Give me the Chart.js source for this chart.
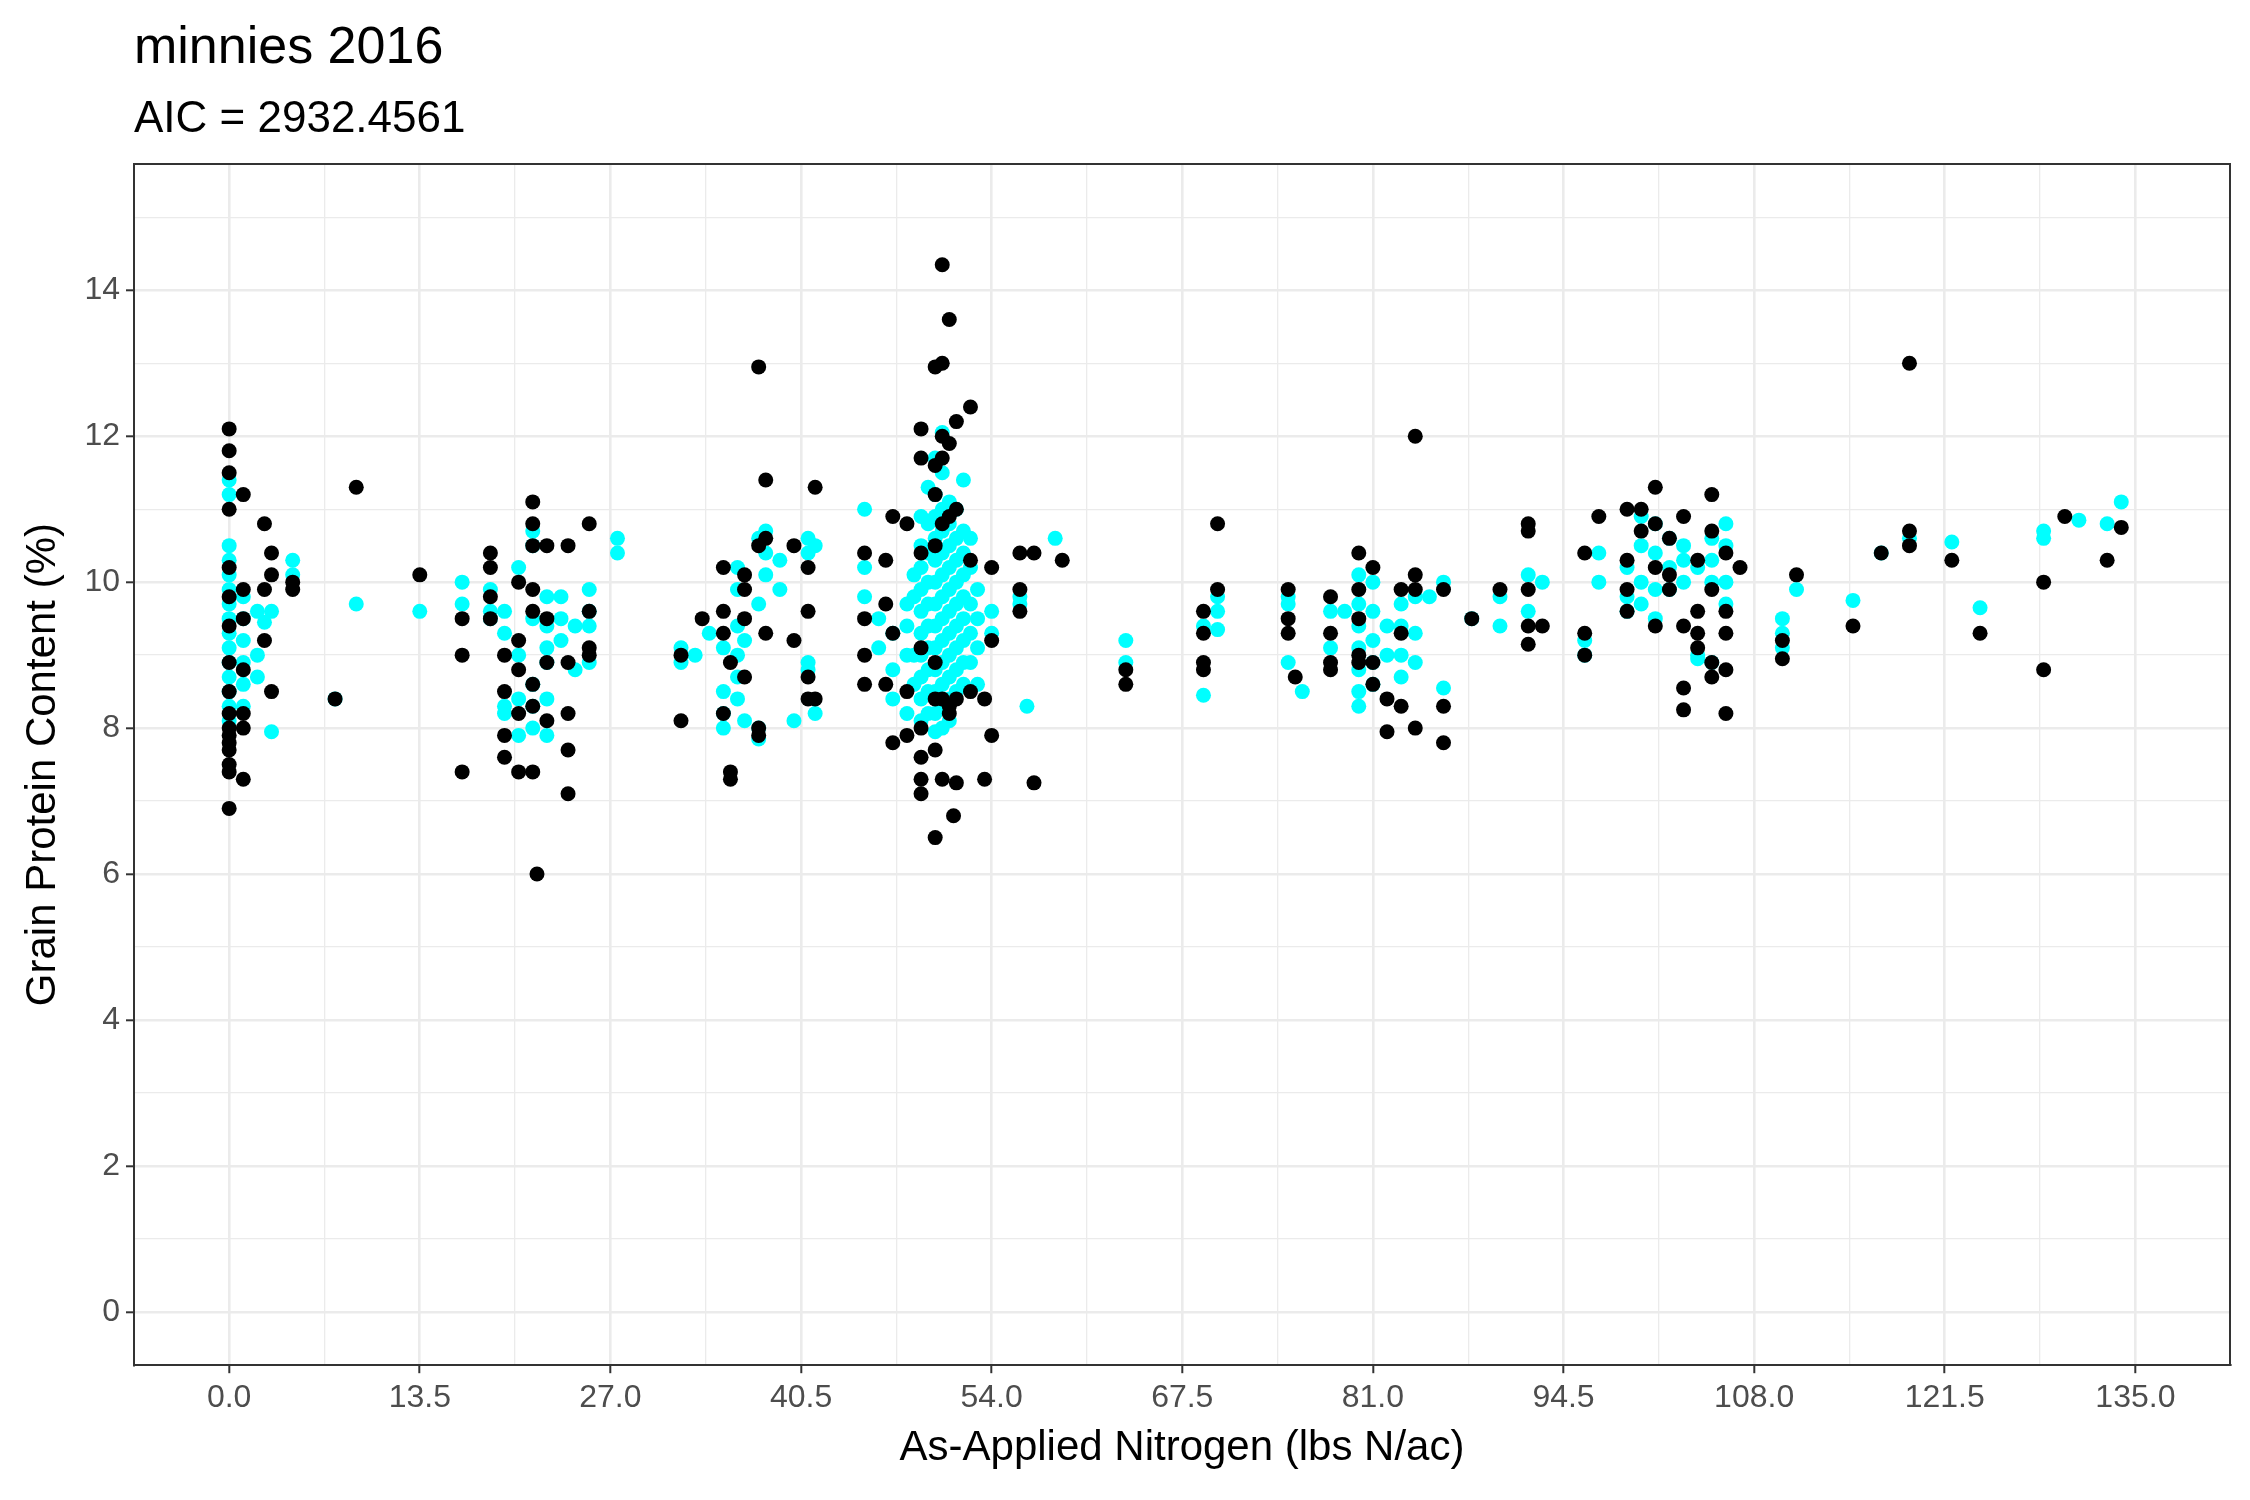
<!DOCTYPE html>
<html>
<head>
<meta charset="utf-8">
<script src="https://cdn.jsdelivr.net/npm/chart.js@4.4.1/dist/chart.umd.min.js"></script>
<style>
  html, body { margin: 0; padding: 0; background: #fff; }
  #wrap { width: 2250px; height: 1500px; }
</style>
</head>
<body>
<div id="wrap"><canvas id="c" width="2250" height="1500"></canvas></div>
<script>
// points: [N rate, protein %]
const titleText = "minnies 2016";
const subtitleText = "AIC = 2932.4561";
const xTitle = "As-Applied Nitrogen (lbs N/ac)";
const yTitle = "Grain Protein Content (%)";
const xTicks = [0, 13.5, 27, 40.5, 54, 67.5, 81, 94.5, 108, 121.5, 135];
const yTicks = [0, 2, 4, 6, 8, 10, 12, 14];

const blackPts = [
  [0,12.1],[0,11.8],[0,11.5],[0,11.0],[0,10.2],[0,9.8],[0,9.4],[0,8.9],[0,8.5],[0,8.0],[0,7.9],[0,7.7],[0,7.5],[0,7.4],[0,6.9],[0,7.8],[0,8.2],
  [1,11.2],[1,9.9],[1,9.5],[1,8.8],[1,8.2],[1,7.3],[1,8.0],
  [2.5,10.8],[2.5,9.9],[2.5,9.2],[3,10.4],[3,10.1],[3,8.5],[4.5,10.0],[4.5,9.9],
  [7.5,8.4],[9,11.3],[13.5,10.1],
  [16.5,9.5],[16.5,9.0],[16.5,7.4],
  [18.5,10.4],[18.5,10.2],[18.5,9.8],[18.5,9.5],
  [19.5,8.5],[19.5,7.9],[19.5,7.6],[19.5,9.0],
  [20.5,7.4],[20.5,8.2],[20.5,8.8],[20.5,9.2],[20.5,10.0],
  [21.5,11.1],[21.5,10.8],[21.5,10.5],[21.5,9.9],[21.5,9.6],[21.5,8.3],[21.5,7.4],[21.8,6.0],[21.5,8.6],
  [22.5,10.5],[22.5,9.5],[22.5,8.9],[22.5,8.1],
  [24,10.5],[24,8.9],[24,8.2],[24,7.7],[24,7.1],
  [25.5,10.8],[25.5,9.6],[25.5,9.1],[25.5,9.0],
  [32,9.0],[32,8.1],[33.5,9.5],
  [35,10.2],[35,9.6],[35,9.3],[35,8.2],[35.5,7.4],[35.5,7.3],[35.5,8.9],
  [36.5,10.1],[36.5,9.9],[36.5,9.5],[36.5,8.7],
  [37.5,10.5],[37.5,8.0],[37.5,12.95],[37.5,7.9],[38,11.4],[38,10.6],[38,9.3],
  [40,10.5],[40,9.2],[41,10.2],[41,9.6],[41,8.7],[41,8.4],[41.5,11.3],[41.5,8.4],
  [45,10.4],[45,9.5],[45,8.6],[45,9.0],[46.5,10.3],[46.5,9.7],[46.5,8.6],
  [47,10.9],[47,9.3],[47,7.8],[48,10.8],[48,8.5],[48,7.9],
  [49,11.7],[49,12.1],[49,10.4],[49,9.1],[49,8.0],[49,7.6],[49,7.3],[49,7.1],
  [50,12.95],[50,11.6],[50,11.2],[50,10.5],[50,8.9],[50,8.4],[50,7.7],[50,6.5],
  [50.5,14.35],[50.5,13.0],[50.5,12.0],[50.5,11.7],[50.5,10.8],[50.5,8.4],[50.5,7.3],
  [51,13.6],[51,11.9],[51,10.9],[51,8.3],[51,8.2],[51.3,6.8],
  [51.5,12.2],[51.5,11.0],[51.5,8.4],[51.5,7.25],
  [52.5,12.4],[52.5,10.3],[52.5,8.5],[53.5,7.3],[53.5,8.4],
  [54,10.2],[54,7.9],[54,9.2],[56,10.4],[56,9.9],[56,9.6],[57,10.4],[57,7.25],[59,10.3],
  [63.5,8.8],[63.5,8.6],
  [69,9.6],[69,9.3],[69,8.9],[69,8.8],[70,10.8],[70,9.9],
  [75,9.5],[75,9.9],[75,9.3],[75.5,8.7],
  [78,9.8],[78,9.3],[78,8.9],[78,8.8],
  [80,10.4],[80,9.9],[80,9.5],[80,9.0],[80,8.9],[81,10.2],[81,8.6],[81,8.9],
  [82,8.4],[82,7.95],[83,9.9],[83,9.3],[83,8.3],
  [84,12.0],[84,10.1],[84,9.9],[84,8.0],
  [86,9.9],[86,8.3],[86,7.8],[88,9.5],[90,9.9],
  [92,10.8],[92,10.7],[92,9.9],[92,9.4],[92,9.15],[93,9.4],
  [96,10.4],[96,9.3],[96,9.0],[97,10.9],
  [99,11.0],[99,10.3],[99,9.9],[99,9.6],[100,11.0],[100,10.7],
  [101,11.3],[101,10.8],[101,10.2],[101,9.4],
  [102,10.6],[102,10.1],[102,9.9],
  [103,10.9],[103,9.4],[103,8.55],[103,8.25],
  [104,10.3],[104,9.6],[104,9.1],[104,9.3],
  [105,11.2],[105,10.7],[105,9.9],[105,8.7],[105,8.9],
  [106,10.4],[106,9.6],[106,9.3],[106,8.8],[106,8.2],
  [107,10.2],[110,9.2],[110,8.95],[111,10.1],[115,9.4],[117,10.4],
  [119,13.0],[119,10.7],[119,10.5],[122,10.3],[124,9.3],
  [128.5,10.0],[128.5,8.8],[130,10.9],[133,10.3],[134,10.75]
];

const cyanPts = [
  [0,11.4],[0,11.2],[0,10.5],[0,10.3],[0,10.1],[0,9.9],[0,9.7],[0,9.5],[0,9.3],[0,9.1],[0,8.9],[0,8.7],[0,8.5],[0,8.3],[0,8.1],
  [1,9.8],[1,9.5],[1,9.2],[1,8.9],[1,8.6],[1,8.3],
  [2,9.6],[2,9.0],[2,8.7],[2.5,9.45],[3,9.6],[3,7.95],[4.5,10.3],[4.5,10.1],
  [7.5,8.4],[9,9.7],[13.5,9.6],
  [16.5,10.0],[16.5,9.7],
  [18.5,9.9],[18.5,9.6],[18.5,9.5],
  [19.5,9.6],[19.5,9.3],[19.5,8.3],[19.5,8.2],
  [20.5,10.2],[20.5,9.0],[20.5,8.4],[20.5,7.9],
  [21.5,10.7],[21.5,10.5],[21.5,9.5],[21.5,8.6],[21.5,8.3],[21.5,8.0],
  [22.5,9.8],[22.5,9.4],[22.5,9.1],[22.5,8.9],[22.5,8.4],[22.5,7.9],
  [23.5,9.8],[23.5,9.5],[23.5,9.2],[24.5,9.4],[24.5,8.8],
  [25.5,9.9],[25.5,9.6],[25.5,9.4],[25.5,8.9],
  [27.5,10.6],[27.5,10.4],
  [32,8.9],[32,9.1],[33,9.0],[34,9.3],
  [35,9.1],[35,8.5],[35,8.2],[35,8.0],
  [36,10.2],[36,9.9],[36,9.4],[36,9.0],[36,8.7],[36,8.4],[36.5,9.2],[36.5,8.1],
  [37.5,10.6],[37.5,9.7],[37.5,8.0],[37.5,7.85],
  [38,10.7],[38,10.4],[38,10.1],[39,10.3],[39,9.9],[40,8.1],
  [41,10.6],[41,10.4],[41,8.9],[41,8.8],[41.5,10.5],[41.5,8.2],
  [45,11.0],[45,10.2],[45,9.8],[46,9.5],[46,9.1],
  [47,9.3],[47,8.8],[47,8.4],
  [48,9.7],[48,9.4],[48,9.0],[48,8.2],
  [48.5,10.1],[48.5,9.8],[48.5,9.0],[48.5,8.6],
  [49,10.9],[49,10.5],[49,10.2],[49,9.9],[49,9.6],[49,9.3],[49,9.0],[49,8.7],[49,8.4],[49,8.1],
  [49.5,11.3],[49.5,10.8],[49.5,10.4],[49.5,10.0],[49.5,9.7],[49.5,9.4],[49.5,9.1],[49.5,8.8],[49.5,8.5],[49.5,8.2],
  [50,11.7],[50,11.2],[50,10.9],[50,10.6],[50,10.3],[50,10.0],[50,9.7],[50,9.4],[50,9.1],[50,8.8],[50,8.5],[50,8.2],[50,7.95],
  [50.5,12.05],[50.5,11.5],[50.5,11.0],[50.5,10.7],[50.5,10.4],[50.5,10.1],[50.5,9.8],[50.5,9.5],[50.5,9.2],[50.5,8.9],[50.5,8.6],[50.5,8.3],[50.5,8.0],
  [51,11.1],[51,10.8],[51,10.5],[51,10.2],[51,9.9],[51,9.6],[51,9.3],[51,9.0],[51,8.7],[51,8.4],[51,8.1],
  [51.5,11.0],[51.5,10.6],[51.5,10.3],[51.5,10.0],[51.5,9.7],[51.5,9.4],[51.5,9.1],[51.5,8.8],[51.5,8.5],
  [52,11.4],[52,10.7],[52,10.4],[52,10.1],[52,9.8],[52,9.5],[52,9.2],[52,8.9],[52,8.6],
  [52.5,10.6],[52.5,10.2],[52.5,9.7],[52.5,9.3],[52.5,8.9],
  [53,9.9],[53,9.5],[53,9.1],[53,8.6],
  [54,9.6],[54,9.3],[56,9.7],[56,9.8],[56.5,8.3],[58.5,10.6],
  [63.5,9.2],[63.5,8.9],
  [69,9.4],[69,8.45],[70,9.8],[70,9.6],[70,9.35],
  [75,9.8],[75,9.7],[75,8.9],[76,8.5],
  [78,9.6],[78,9.1],[79,9.6],
  [80,10.1],[80,9.7],[80,9.4],[80,9.1],[80,8.8],[80,8.5],[80,8.3],
  [81,10.0],[81,9.6],[81,9.2],[81,8.9],[81,8.6],
  [82,9.4],[82,9.0],[83,9.7],[83,9.4],[83,9.0],[83,8.7],
  [84,9.8],[84,9.3],[84,8.9],[85,9.8],[86,10.0],[86,8.55],
  [88,9.5],[90,9.8],[90,9.4],[92,10.1],[92,9.6],[93,10.0],
  [96,9.2],[96,9.0],[97,10.4],[97,10.0],
  [99,10.2],[99,9.8],[99,9.6],
  [100,10.9],[100,10.5],[100,10.0],[100,9.7],
  [101,10.8],[101,10.4],[101,9.9],[101,9.5],
  [102,10.6],[102,10.2],[102,9.9],
  [103,10.5],[103,10.3],[103,10.0],
  [104,10.2],[104,9.0],[104,8.95],
  [105,10.6],[105,10.3],[105,10.0],[105,8.9],
  [106,10.8],[106,10.5],[106,10.0],[106,9.7],
  [110,9.5],[110,9.3],[110,9.1],[111,9.9],[115,9.75],[117,10.4],
  [119,10.6],[122,10.55],[124,9.65],
  [128.5,10.7],[128.5,10.6],[131,10.85],[133,10.8],[134,11.1]
];

const xMinor = [6.75, 20.25, 33.75, 47.25, 60.75, 74.25, 87.75, 101.25, 114.75, 128.25];
const yMinor = [1, 3, 5, 7, 9, 11, 13, 15];

const FONT = "Arial, 'Liberation Sans', sans-serif";

function gridTicks(major, minor) {
  return axis => {
    const all = major.map(v => ({ value: v, major: true }))
      .concat(minor.map(v => ({ value: v, major: false })));
    all.sort((a, b) => a.value - b.value);
    axis.ticks = all;
  };
}

const titles = {
  id: "titles",
  afterDraw(chart) {
    const ctx = chart.ctx;
    const a = chart.chartArea;
    ctx.save();
    ctx.fillStyle = "#000";
    ctx.textAlign = "left";
    ctx.textBaseline = "alphabetic";
    ctx.font = "52px " + FONT;
    ctx.fillText(titleText, a.left, 63);
    ctx.font = "44px " + FONT;
    ctx.fillText(subtitleText, a.left, 132);
    ctx.restore();
  }
};

const isMajor = ctx => ctx.tick && ctx.tick.major;

new Chart(document.getElementById("c"), {
  type: "scatter",
  data: {
    datasets: [
      { data: blackPts.map(p => ({ x: p[0], y: p[1] })), backgroundColor: "#000", borderWidth: 0, pointRadius: 7.5 },
      { data: cyanPts.map(p => ({ x: p[0], y: p[1] })), backgroundColor: "#00ffff", borderWidth: 0, pointRadius: 7.5 }
    ]
  },
  options: {
    responsive: false,
    animation: false,
    devicePixelRatio: 1,
    layout: { padding: { top: 164, right: 20, left: 18, bottom: 26 } },
    plugins: { legend: { display: false }, tooltip: { enabled: false } },
    scales: {
      x: {
        type: "linear", min: -6.74, max: 141.7,
        afterBuildTicks: gridTicks(xTicks, xMinor),
        ticks: {
          autoSkip: false, maxRotation: 0, color: "#4d4d4d", padding: 6,
          font: { size: 32, family: FONT },
          callback: (v) => xTicks.includes(v) ? v.toFixed(1) : ""
        },
        grid: {
          color: "#ebebeb",
          lineWidth: c => isMajor(c) ? 2.6 : 1.3,
          tickColor: c => isMajor(c) ? "#333" : "rgba(0,0,0,0)",
          tickLength: 8, tickWidth: 2
        },
        border: { color: "#333", width: 2 },
        title: { display: true, text: xTitle, color: "#000", font: { size: 42, family: FONT }, padding: { top: 0, bottom: 0 } }
      },
      y: {
        type: "linear", min: -0.73, max: 15.73,
        afterBuildTicks: gridTicks(yTicks, yMinor),
        ticks: {
          autoSkip: false, color: "#4d4d4d", padding: 6,
          font: { size: 32, family: FONT },
          callback: (v) => yTicks.includes(v) ? String(v) : ""
        },
        grid: {
          color: "#ebebeb",
          lineWidth: c => isMajor(c) ? 2.6 : 1.3,
          tickColor: c => isMajor(c) ? "#333" : "rgba(0,0,0,0)",
          tickLength: 8, tickWidth: 2
        },
        border: { color: "#333", width: 2 },
        title: { display: true, text: yTitle, color: "#000", font: { size: 42, family: FONT }, padding: { top: 0, bottom: 10 } }
      },
      x2: {
        type: "linear", position: "top", min: -6.74, max: 141.7,
        ticks: { display: false }, grid: { display: false, drawTicks: false },
        border: { color: "#333", width: 2 }
      },
      y2: {
        type: "linear", position: "right", min: -0.73, max: 15.73,
        ticks: { display: false }, grid: { display: false, drawTicks: false },
        border: { color: "#333", width: 2 }
      }
    }
  },
  plugins: [titles]
});
</script>
</body>
</html>
